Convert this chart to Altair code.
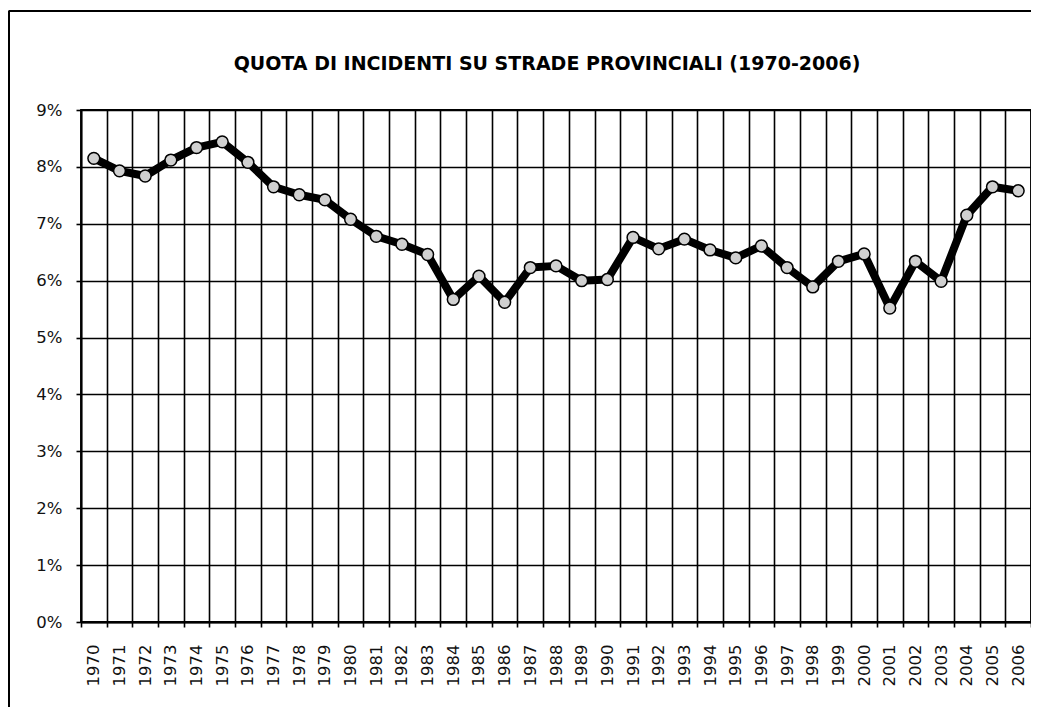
import altair as alt
import pandas as pd

years = [str(y) for y in range(1970, 2007)]
quota = [8.15, 7.93, 7.84, 8.12, 8.34, 8.44, 8.08, 7.65, 7.51, 7.42,
         7.08, 6.78, 6.64, 6.46, 5.67, 6.08, 5.62, 6.23, 6.26, 6.00,
         6.02, 6.76, 6.56, 6.73, 6.54, 6.40, 6.61, 6.23, 5.89, 6.34,
         6.47, 5.52, 6.34, 5.99, 7.15, 7.65, 7.58]
y_ticks = [0, 0.01, 0.02, 0.03, 0.04, 0.05, 0.06, 0.07, 0.08, 0.09]
title_text = "QUOTA DI INCIDENTI SU STRADE PROVINCIALI (1970-2006)"

df = pd.DataFrame({"anno": years, "quota": [v / 100 for v in quota]})

W, H = 950, 512
PL, PT, PR, PB = 73, 102, 0, 85

x_enc = alt.X("anno:O", title=None,
              scale=alt.Scale(type="band", paddingInner=0, paddingOuter=0),
              axis=alt.Axis(labelAngle=-90, tickBand="extent", grid=True,
                            labelPadding=17, tickSize=5, labelFontSize=16.5,
                            labelFont="DejaVu Sans", labelColor="#111"))
y_enc = alt.Y("quota:Q", title=None,
              scale=alt.Scale(domain=[0, 0.09], nice=False),
              axis=alt.Axis(values=y_ticks, format=".0%", grid=True,
                            labelPadding=14, tickSize=5, labelFontSize=16.5,
                            labelFont="DejaVu Sans", labelColor="#111"))

base = alt.Chart(df)
line = base.mark_line(color="black", strokeWidth=8, strokeJoin="round",
                      strokeCap="round").encode(x=x_enc, y=y_enc)
pts = base.mark_point(filled=True, fill="#d0d0d0", stroke="black",
                      strokeWidth=1.5, size=140, opacity=1).encode(x="anno:O", y="quota:Q")

one = alt.Chart(pd.DataFrame({"a": [0]}))
top_rule = one.mark_rule(color="black", strokeWidth=2).encode(
    x=alt.value(-PL + 0.5), x2=alt.value(W + PR), y=alt.value(-99))
left_rule = one.mark_rule(color="black", strokeWidth=2).encode(
    x=alt.value(-PL + 1), y=alt.value(-99), y2=alt.value(H + PB))
title = one.mark_text(text=title_text, font="DejaVu Sans", fontWeight="bold",
                      fontSize=19, align="center", baseline="alphabetic",
                      color="black").encode(x=alt.value(466), y=alt.value(-40))

chart = alt.layer(line, pts, top_rule, left_rule, title).properties(
    width=W, height=H,
    autosize=alt.AutoSizeParams(type="none"),
    padding={"left": PL, "top": PT, "right": PR, "bottom": PB},
    background="white",
).configure_view(stroke="black", strokeWidth=1.8).configure_axis(
    gridColor="black", gridWidth=1.6, gridOpacity=1,
    tickColor="black", tickWidth=1.6,
    domainColor="black", domainWidth=1.8,
)

chart.save("out.html", embed_options={"renderer": "svg", "actions": False})
